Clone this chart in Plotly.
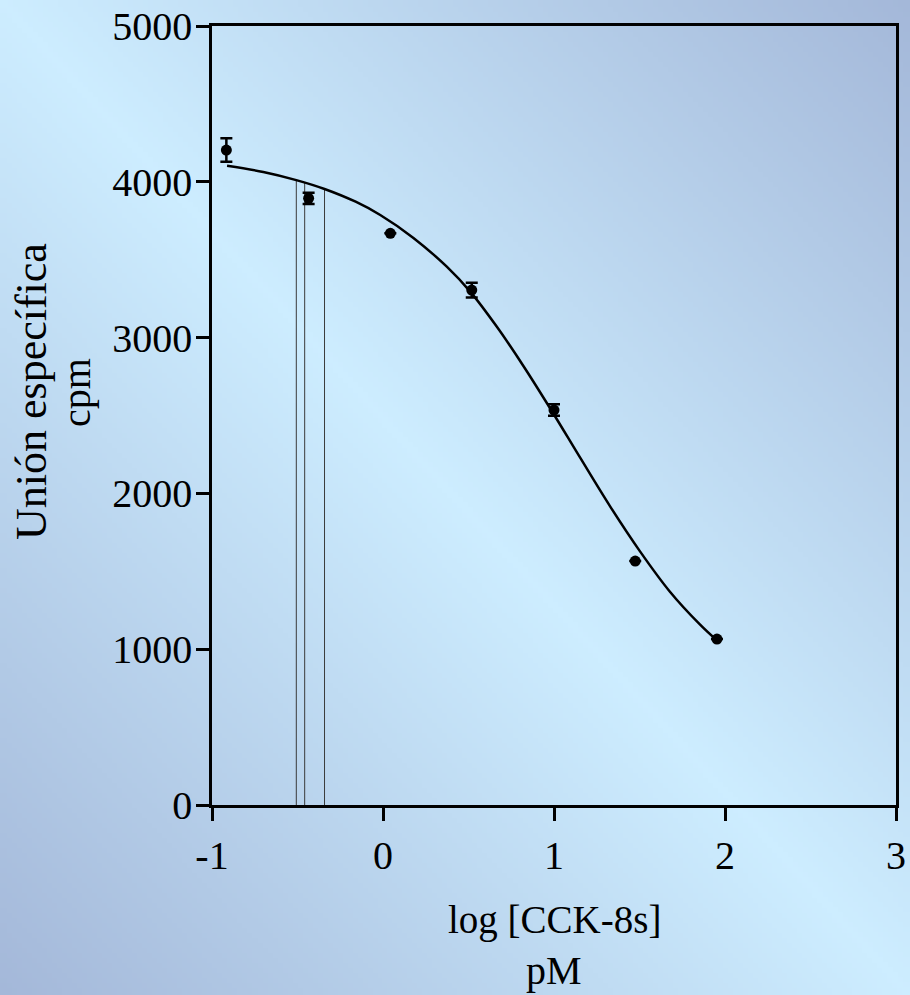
import base64, struct, zlib
import plotly.graph_objects as go

# ---------------- data ----------------
log_conc = [-0.916, -0.435, 0.043, 0.519, 1.000, 1.475, 1.953]
binding = [4204, 3894, 3669, 3305, 2535, 1566, 1065]
binding_err = [75, 36, 0, 47, 37, 0, 0]

curve_x = [-0.912, -0.70, -0.507, -0.342, -0.16, -0.016, 0.178, 0.373, 0.510,
           0.666, 0.821, 0.987, 1.153, 1.328, 1.503, 1.678, 1.853, 1.951]
curve_y = [4103, 4063, 4011, 3954, 3872, 3787, 3640, 3455, 3295,
           3069, 2818, 2529, 2229, 1917, 1628, 1369, 1159, 1058]

vline_x = [-0.507, -0.458, -0.342]
vline_top = [4011, 3996, 3954]

x_ticks = [-1, 0, 1, 2, 3]
x_tick_labels = ["-1", "0", "1", "2", "3"]
y_ticks = [0, 1000, 2000, 3000, 4000, 5000]
y_tick_labels = ["0", "1000", "2000", "3000", "4000", "5000"]

# ---------------- background gradient image ----------------
W, H = 182, 199
light = (205, 237, 255)
dark = (164, 184, 217)
rows = bytearray()
for j in range(H):
    rows.append(0)
    v = j / (H - 1)
    for i in range(W):
        u = i / (W - 1)
        t = abs(u - v)
        for c in range(3):
            rows.append(int(round(light[c] + (dark[c] - light[c]) * t)))


def chunk(tag, data):
    c = struct.pack(">I", len(data)) + tag + data
    return c + struct.pack(">I", zlib.crc32(tag + data) & 0xFFFFFFFF)


png = b"\x89PNG\r\n\x1a\n"
png += chunk(b"IHDR", struct.pack(">IIBBBBB", W, H, 8, 2, 0, 0, 0))
png += chunk(b"IDAT", zlib.compress(bytes(rows), 9))
png += chunk(b"IEND", b"")
bg_src = "data:image/png;base64," + base64.b64encode(png).decode()

# ---------------- figure ----------------
FIG_W, FIG_H = 910, 995
ML, MR, MT, MB = 212, 14, 26, 190
PW = FIG_W - ML - MR
PH = FIG_H - MT - MB
FONT = "Liberation Serif, Times New Roman, serif"

fig = go.Figure()

# vertical marker lines
vx, vy = [], []
for x, top in zip(vline_x, vline_top):
    vx += [x, x, None]
    vy += [0, top, None]
fig.add_trace(go.Scatter(x=vx, y=vy, mode="lines",
                         line=dict(color="#3a3a3a", width=1),
                         hoverinfo="skip", showlegend=False))

# fitted curve
fig.add_trace(go.Scatter(x=curve_x, y=curve_y, mode="lines",
                         line=dict(color="black", width=2.5, shape="spline",
                                   smoothing=1.0),
                         showlegend=False))

# data points
fig.add_trace(go.Scatter(x=log_conc, y=binding, mode="markers",
                         marker=dict(color="black", size=11),
                         error_y=dict(type="data", array=binding_err,
                                      color="black", thickness=2.5, width=6),
                         showlegend=False))

axis_common = dict(showline=True, linecolor="black", linewidth=2.5,
                   mirror=True, ticks="outside", ticklen=13, tickwidth=2.5,
                   tickcolor="black", showgrid=False, zeroline=False,
                   automargin=False,
                   tickfont=dict(family=FONT, size=40, color="black"))

fig.update_xaxes(range=[-1, 3], tickmode="array", tickvals=x_ticks,
                 ticktext=x_tick_labels, **axis_common)
fig.update_yaxes(range=[0, 5000], tickmode="array", tickvals=y_ticks,
                 ticktext=y_tick_labels, ticklabelstandoff=-4, **axis_common)

fig.update_layout(
    width=FIG_W, height=FIG_H,
    margin=dict(l=ML, r=MR, t=MT, b=MB, autoexpand=False),
    paper_bgcolor="rgba(0,0,0,0)",
    plot_bgcolor="rgba(0,0,0,0)",
    images=[dict(source=bg_src, xref="paper", yref="paper",
                 x=-ML / PW, y=1 + MT / PH, sizex=FIG_W / PW, sizey=FIG_H / PH,
                 xanchor="left", yanchor="top", sizing="stretch",
                 layer="below")],
    annotations=[
        dict(text="Unión específica", xref="paper", yref="paper",
             x=(31 - ML) / PW, y=(805 - 391) / PH, textangle=-90,
             showarrow=False, xanchor="center", yanchor="middle",
             font=dict(family=FONT, size=44, color="black")),
        dict(text="cpm", xref="paper", yref="paper",
             x=(76 - ML) / PW, y=(805 - 393) / PH, textangle=-90,
             showarrow=False, xanchor="center", yanchor="middle",
             font=dict(family=FONT, size=40, color="black")),
        dict(text="log [CCK-8s]", xref="paper", yref="paper",
             x=0.5, y=(805 - 920) / PH, showarrow=False,
             xanchor="center", yanchor="middle",
             font=dict(family=FONT, size=39, color="black")),
        dict(text="pM", xref="paper", yref="paper",
             x=0.5, y=(805 - 970) / PH, showarrow=False,
             xanchor="center", yanchor="middle",
             font=dict(family=FONT, size=40, color="black")),
    ],
)

fig.write_html("out.html", config={"displayModeBar": False},
               post_script="document.body.style.margin='0';")
